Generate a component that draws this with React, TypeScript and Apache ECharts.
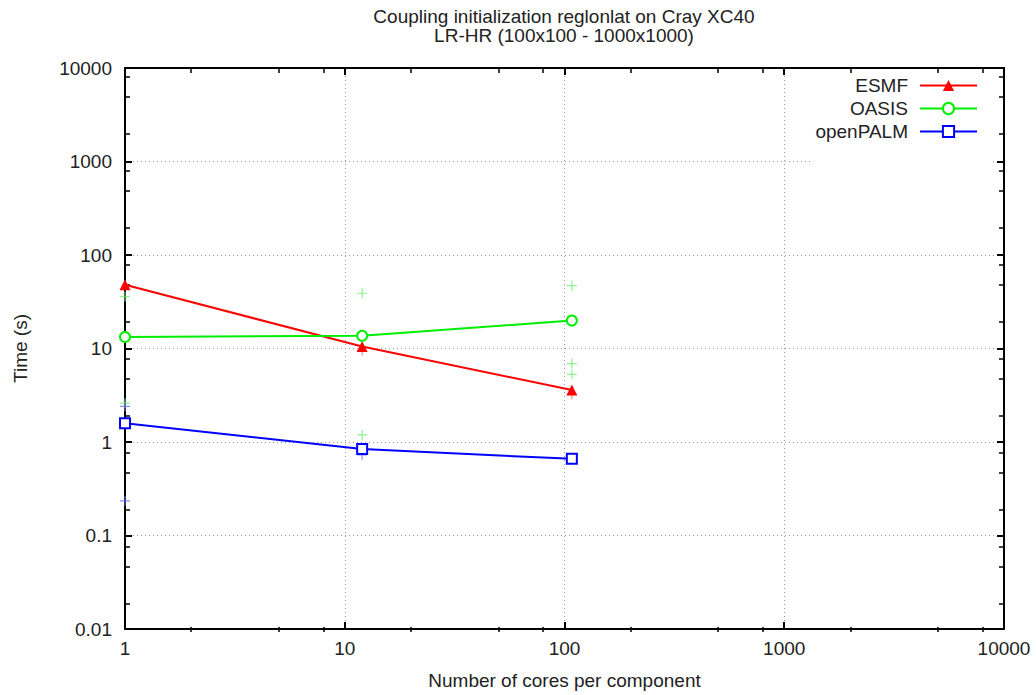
import React, { useEffect, useRef } from "react";
import * as echarts from "echarts";

const titleLines = ["Coupling initialization reglonlat on Cray XC40", "LR-HR (100x100 - 1000x1000)"];
const xName = "Number of cores per component";
const yName = "Time (s)";

const cores = [1, 12, 108];
const esmf = [48, 10.5, 3.6];
const oasis = [13.3, 13.7, 19.9];
const openPALM = [1.59, 0.84, 0.66];

// individual runs (plus markers)
const esmfRunX = [12, 108];
const esmfRunY = [9.5, 3.25];
const oasisRunX = [1, 1, 12, 12, 108, 108, 108];
const oasisRunY = [36, 2.6, 39, 1.19, 47, 6.9, 5.3];
const palmRunX = [1, 1, 12, 108];
const palmRunY = [2.4, 0.235, 0.73, 0.66];

const xMin = 1, xMax = 10000;
const yMin = 0.01, yMax = 10000;
const minorMantissas = [2, 5, 8];

const FONT = "'Liberation Sans', Arial, sans-serif";
const TXT = "#222";

function minorLogs(lo: number, hi: number) {
  const out: number[] = [];
  for (let d = lo; d < hi; d++) for (const m of minorMantissas) out.push(d + Math.log10(m));
  return out;
}

const fmt = (v: number) => String(+Number(v).toPrecision(6));
const pairs = (xs: number[], ys: number[]) => xs.map((x, i) => [x, ys[i]]);
const PLUS = "path://M4.4,0H5.6V10H4.4Z M0,4.4H10V5.6H0Z";

export default function App() {
  const ref = useRef<HTMLDivElement>(null);
  useEffect(() => {
    if (!ref.current) return;
    const chart = echarts.init(ref.current, null, { renderer: "svg" });
    const gridRect = { left: 125, right: 32, top: 68, bottom: 63 };
    const axisLine = { show: true, onZero: false, lineStyle: { color: "#000", width: 2 } };
    const majorTick = { show: true, inside: true, length: 7, lineStyle: { color: "#000", width: 2 } };
    const splitLine = { show: true, lineStyle: { color: "#999", width: 1, type: [1, 3] } };
    const lx0 = Math.log10(xMin), lx1 = Math.log10(xMax);
    const ly0 = Math.log10(yMin), ly1 = Math.log10(yMax);
    const hiddenLine = { show: true, onZero: false, lineStyle: { color: "rgba(0,0,0,0)", width: 1 } };
    const minorTick = (vals: number[]) => ({ show: true, inside: true, length: 5, lineStyle: { color: "#000", width: 1.5 }, customValues: vals });

    const option: any = {
      animation: false,
      backgroundColor: "#fff",
      title: {
        text: titleLines.join("\n"),
        left: 564,
        textAlign: "center",
        top: 7,
        padding: 0,
        textStyle: { fontFamily: FONT, fontSize: 19, fontWeight: "normal", color: TXT, lineHeight: 19 },
      },
      legend: {
        data: ["ESMF", "OASIS", "openPALM"],
        orient: "vertical",
        align: "right",
        right: 43,
        top: 75,
        padding: [1, 15, 40, 4],
        itemWidth: 57,
        itemHeight: 14,
        itemGap: 4,
        backgroundColor: "#fff",
        z: 10,
        textStyle: { fontFamily: FONT, fontSize: 19, color: TXT, padding: [0, 7, 0, 0] },
      },
      grid: [{ ...gridRect }, { ...gridRect }],
      xAxis: [
        {
          type: "log", logBase: 10, min: xMin, max: xMax, gridIndex: 0, position: "bottom",
          axisLine, axisTick: majorTick, splitLine,
          axisLabel: { formatter: fmt, margin: 10, fontFamily: FONT, fontSize: 19, color: TXT },
          name: xName, nameLocation: "middle", nameGap: 42,
          nameTextStyle: { fontFamily: FONT, fontSize: 19, color: TXT },
        },
        {
          type: "log", logBase: 10, min: xMin, max: xMax, gridIndex: 0, position: "top",
          axisLine, axisTick: majorTick, splitLine: { show: false }, axisLabel: { show: false },
        },
        {
          type: "value", min: lx0, max: lx1, gridIndex: 1, position: "bottom",
          axisLine: hiddenLine, splitLine: { show: false }, axisLabel: { show: false }, axisTick: minorTick(minorLogs(lx0, lx1)),
        },
        {
          type: "value", min: lx0, max: lx1, gridIndex: 1, position: "top",
          axisLine: hiddenLine, splitLine: { show: false }, axisLabel: { show: false }, axisTick: minorTick(minorLogs(lx0, lx1)),
        },
      ],
      yAxis: [
        {
          type: "log", logBase: 10, min: yMin, max: yMax, gridIndex: 0, position: "left",
          axisLine, axisTick: majorTick, splitLine,
          axisLabel: { formatter: fmt, margin: 13, fontFamily: FONT, fontSize: 19, color: TXT },
          name: yName, nameLocation: "middle", nameGap: 95, nameRotate: 90,
          nameTextStyle: { fontFamily: FONT, fontSize: 19, color: TXT },
        },
        {
          type: "log", logBase: 10, min: yMin, max: yMax, gridIndex: 0, position: "right",
          axisLine, axisTick: majorTick, splitLine: { show: false }, axisLabel: { show: false },
        },
        {
          type: "value", min: ly0, max: ly1, gridIndex: 1, position: "left",
          axisLine: hiddenLine, splitLine: { show: false }, axisLabel: { show: false }, axisTick: minorTick(minorLogs(ly0, ly1)),
        },
        {
          type: "value", min: ly0, max: ly1, gridIndex: 1, position: "right",
          axisLine: hiddenLine, splitLine: { show: false }, axisLabel: { show: false }, axisTick: minorTick(minorLogs(ly0, ly1)),
        },
      ],
      series: [
        {
          name: "ESMF-runs", type: "scatter", xAxisIndex: 0, yAxisIndex: 0,
          data: pairs(esmfRunX, esmfRunY), symbol: PLUS, symbolSize: 10,
          itemStyle: { color: "#ff7070" }, z: 1,
        },
        {
          name: "OASIS-runs", type: "scatter", xAxisIndex: 0, yAxisIndex: 0,
          data: pairs(oasisRunX, oasisRunY), symbol: PLUS, symbolSize: 10,
          itemStyle: { color: "#70ee70" }, z: 1,
        },
        {
          name: "openPALM-runs", type: "scatter", xAxisIndex: 0, yAxisIndex: 0,
          data: pairs(palmRunX, palmRunY), symbol: PLUS, symbolSize: 10,
          itemStyle: { color: "#7070ff" }, z: 1,
        },
        {
          name: "ESMF", type: "line", xAxisIndex: 0, yAxisIndex: 0,
          data: pairs(cores, esmf), symbol: "triangle", symbolSize: 11, showAllSymbol: true,
          lineStyle: { color: "#ff0000", width: 2 }, itemStyle: { color: "#ff0000" }, color: "#ff0000", z: 3,
        },
        {
          name: "OASIS", type: "line", xAxisIndex: 0, yAxisIndex: 0,
          data: pairs(cores, oasis), symbol: "emptyCircle", symbolSize: 10, showAllSymbol: true,
          lineStyle: { color: "#00ee00", width: 2 }, itemStyle: { color: "#00ee00", borderWidth: 2 }, color: "#00ee00", z: 3,
        },
        {
          name: "openPALM", type: "line", xAxisIndex: 0, yAxisIndex: 0,
          data: pairs(cores, openPALM), symbol: "emptyRect", symbolSize: 10, showAllSymbol: true,
          lineStyle: { color: "#0000ff", width: 2 }, itemStyle: { color: "#0000ff", borderWidth: 1.8 }, color: "#0000ff", z: 3,
        },
      ],
    };
    chart.setOption(option);
    return () => chart.dispose();
  }, []);
  return (
    <div
      ref={ref}
      style={{ position: "absolute", left: 0, top: 0, width: 1036, height: 695, background: "#fff" }}
    />
  );
}
